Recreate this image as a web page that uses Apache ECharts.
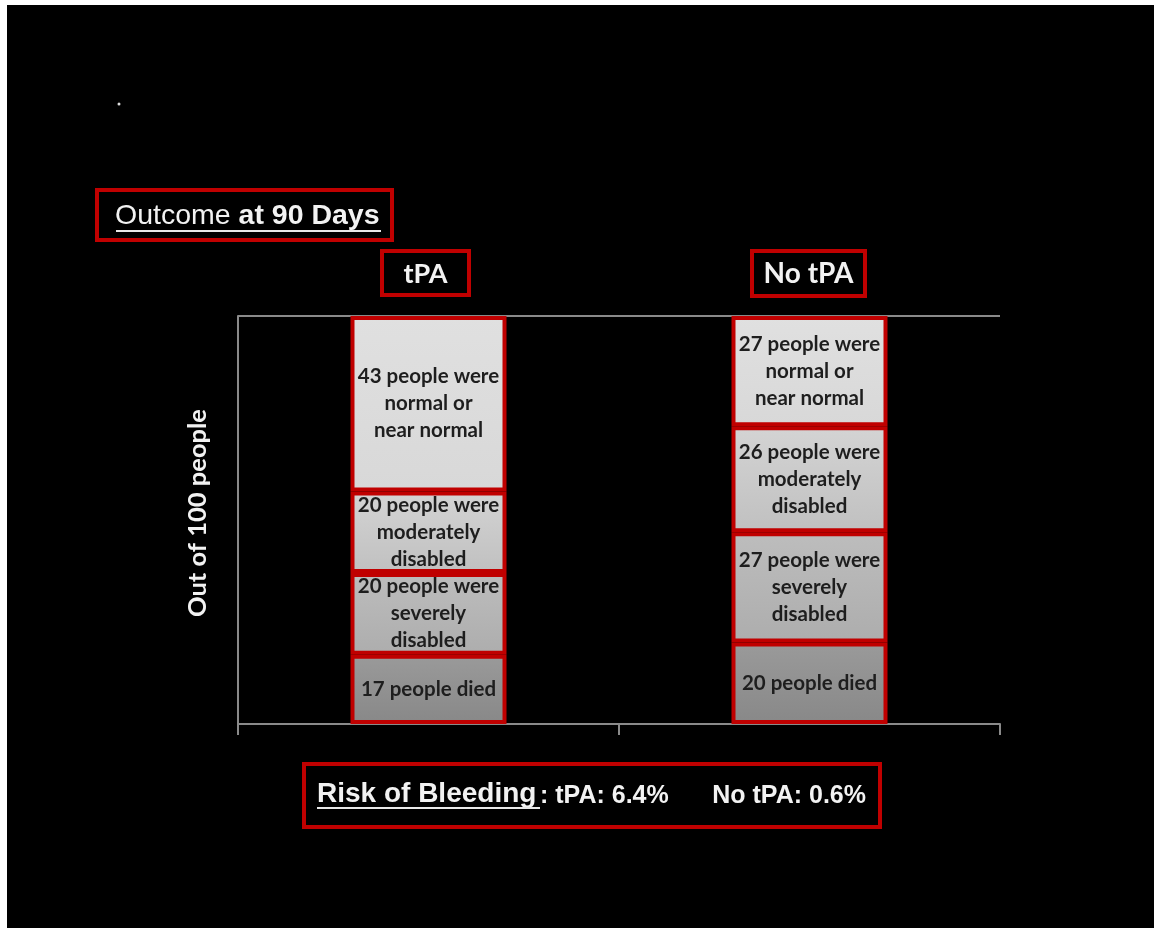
<!DOCTYPE html>
<html>
<head>
<meta charset="utf-8">
<script src="https://cdn.jsdelivr.net/npm/echarts@6/dist/echarts.min.js"></script>
<style>
  html, body { margin: 0; padding: 0; background: #ffffff; }
  #chart { width: 1154px; height: 928px; }
</style>
</head>
<body>
<div id="chart"></div>
<script>
// Outcome at 90 days, out of 100 people per group
const categories = ['tPA', 'No tPA'];
const died = [17, 20];
const severe = [20, 27];
const moderate = [20, 26];
const normal = [43, 27];

const bleedingRisk = ['6.4%', '0.6%'];

const RED = '#c00000';
const AXIS = '#8a8a8a';
const LABEL_FONT = 'Lato, "Open Sans", sans-serif';
const SANS = '"Liberation Sans", Arial, sans-serif';

function segment(name, data, colorTop, colorBottom, tail) {
  return {
    name: name,
    type: 'bar',
    stack: 'outcome',
    data: data,
    barWidth: 156,
    itemStyle: {
      color: new echarts.graphic.LinearGradient(0, 0, 0, 1, [
        { offset: 0, color: colorTop },
        { offset: 1, color: colorBottom }
      ]),
      borderColor: RED,
      borderWidth: 4
    },
    label: {
      show: true,
      position: 'inside',
      color: '#1e1e1e',
      fontFamily: LABEL_FONT,
      fontWeight: 'bold',
      fontSize: 20.5,
      lineHeight: 27,
      formatter: function (p) { return p.value + tail; }
    }
  };
}

const chart = echarts.init(document.getElementById('chart'), null, { renderer: 'canvas' });

chart.setOption({
  backgroundColor: '#ffffff',
  animation: false,
  grid: { left: 238, right: 154, top: 316, bottom: 204 },
  xAxis: {
    type: 'category',
    data: categories,
    boundaryGap: true,
    axisLine: { show: true, lineStyle: { color: AXIS, width: 2 } },
    axisTick: { show: true, length: 11, lineStyle: { color: AXIS, width: 2 } },
    axisLabel: { show: false }
  },
  yAxis: {
    type: 'value',
    min: 0,
    max: 100,
    interval: 100,
    axisLine: { show: true, lineStyle: { color: AXIS, width: 2 } },
    axisTick: { show: false },
    axisLabel: { show: false },
    splitLine: { show: true, lineStyle: { color: AXIS, width: 2 } }
  },
  series: [
    segment('died', died, '#9a9a9a', '#888888', ' people died'),
    segment('severe', severe, '#bdbdbd', '#adadad', ' people were\nseverely\ndisabled'),
    segment('moderate', moderate, '#d4d4d4', '#c0c0c0', ' people were\nmoderately\ndisabled'),
    segment('normal', normal, '#e0e0e0', '#d8d8d8', ' people were\nnormal or\nnear normal')
  ],
  graphic: [
    // black slide area inside the white frame
    { type: 'rect', z: -10, silent: true,
      shape: { x: 7, y: 5, width: 1147, height: 923 },
      style: { fill: '#000000' } },
    { type: 'circle', z: 10, shape: { cx: 119, cy: 104, r: 1.5 }, style: { fill: '#dddddd' } },

    // value axis title
    { type: 'text', z: 11, x: 198, y: 513, rotation: Math.PI / 2,
      style: { text: 'Out of 100 people', fill: '#f2f2f2', fontFamily: LABEL_FONT, fontWeight: 'bold',
               fontSize: 25.5, align: 'center', verticalAlign: 'middle' } },

    // heading
    { type: 'rect', z: 10, shape: { x: 97, y: 190, width: 295, height: 50 },
      style: { fill: null, stroke: RED, lineWidth: 4 } },
    { type: 'text', z: 11, x: 115, y: 216,
      style: {
        text: '{r|Outcome }{b|at 90 Days}',
        verticalAlign: 'middle',
        rich: {
          r: { fill: '#f2f2f2', fontFamily: SANS, fontSize: 28.5 },
          b: { fill: '#f2f2f2', fontFamily: SANS, fontSize: 28.5, fontWeight: 'bold' }
        }
      } },
    { type: 'line', z: 11, shape: { x1: 116, y1: 231, x2: 381, y2: 231 },
      style: { stroke: '#e8e8e8', lineWidth: 2 } },

    // group headers
    { type: 'rect', z: 10, shape: { x: 382, y: 251, width: 87, height: 44 },
      style: { fill: null, stroke: RED, lineWidth: 4 } },
    { type: 'text', z: 11, x: 425.5, y: 274,
      style: { text: categories[0], fill: '#f2f2f2', fontFamily: LABEL_FONT, fontWeight: 'bold',
               fontSize: 27, align: 'center', verticalAlign: 'middle' } },
    { type: 'rect', z: 10, shape: { x: 752, y: 251, width: 113, height: 45 },
      style: { fill: null, stroke: RED, lineWidth: 4 } },
    { type: 'text', z: 11, x: 808.5, y: 274,
      style: { text: categories[1], fill: '#f2f2f2', fontFamily: LABEL_FONT, fontWeight: 'bold',
               fontSize: 28, align: 'center', verticalAlign: 'middle' } },

    // bleeding risk footer
    { type: 'rect', z: 10, shape: { x: 304, y: 764, width: 576, height: 63 },
      style: { fill: null, stroke: RED, lineWidth: 4 } },
    { type: 'text', z: 11, x: 317, y: 794,
      style: { text: 'Risk of Bleeding', fill: '#f2f2f2', fontFamily: SANS, fontWeight: 'bold',
               fontSize: 28, verticalAlign: 'middle' } },
    { type: 'text', z: 11, x: 540, y: 796,
      style: { text: ': tPA: ' + bleedingRisk[0], fill: '#f2f2f2', fontFamily: SANS, fontWeight: 'bold',
               fontSize: 25, verticalAlign: 'middle' } },
    { type: 'text', z: 11, x: 866, y: 796,
      style: { text: 'No tPA: ' + bleedingRisk[1], fill: '#f2f2f2', fontFamily: SANS, fontWeight: 'bold',
               fontSize: 25, align: 'right', verticalAlign: 'middle' } },
    { type: 'line', z: 11, shape: { x1: 317, y1: 808, x2: 540, y2: 808 },
      style: { stroke: '#e8e8e8', lineWidth: 2 } }
  ]
});
</script>
</body>
</html>
